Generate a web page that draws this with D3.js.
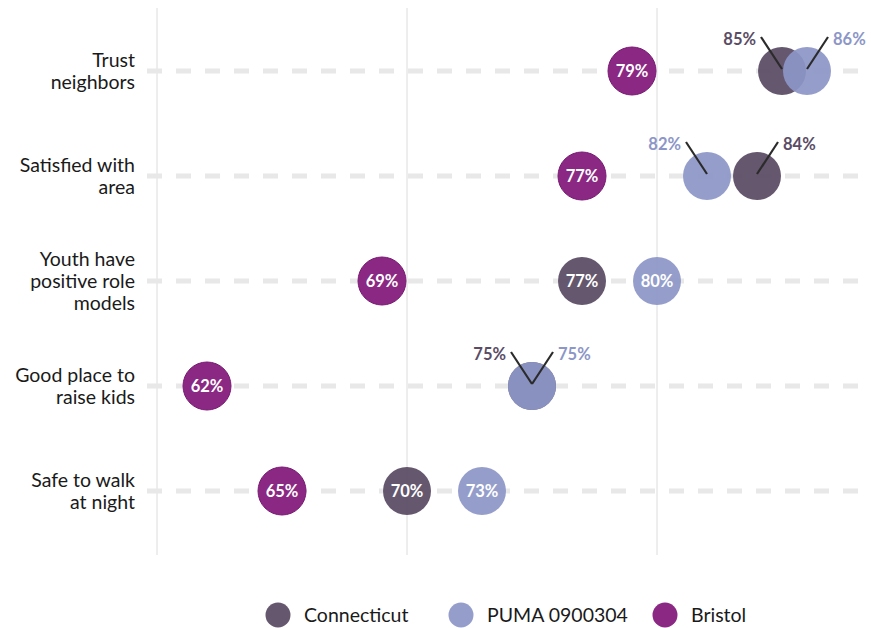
<!DOCTYPE html>
<html>
<head>
<meta charset="utf-8">
<script src="https://cdn.jsdelivr.net/npm/d3@7"></script>
<style>
  body { margin: 0; background: #fff; }
  svg { font-family: "Source Sans Pro", Lato, "Noto Sans", sans-serif; }
</style>
</head>
<body>
<script>
// Data
const categories = [
  ["Trust", "neighbors"],
  ["Satisfied with", "area"],
  ["Youth have", "positive role", "models"],
  ["Good place to", "raise kids"],
  ["Safe to walk", "at night"]
];
const seriesNames = ["Connecticut", "PUMA 0900304", "Bristol"];
const connecticut = [85, 84, 77, 75, 70];
const puma = [86, 82, 80, 75, 73];
const bristol = [79, 77, 69, 62, 65];
const gridValues = [60, 70, 80];

const colors = ["#5a4c65", "#8c96c7", "#86217f"];
const opac = [0.94, 0.92, 0.97];

// Main
const width = 871, height = 628;
const svg = d3.select("body").append("svg")
  .attr("width", width).attr("height", height);

const x = d3.scaleLinear().domain([60, 88]).range([157, 857]);
const y = d3.scalePoint().domain(d3.range(categories.length)).range([71, 491]);
const r = 24;

// vertical gridlines
svg.append("g").selectAll("line").data(gridValues).join("line")
  .attr("x1", d => x(d)).attr("x2", d => x(d))
  .attr("y1", 8).attr("y2", 555)
  .attr("stroke", "#dcdcdc").attr("stroke-width", 1);

// dashed row lines
svg.append("g").selectAll("line").data(categories).join("line")
  .attr("x1", 147).attr("x2", 867)
  .attr("y1", (d, i) => y(i)).attr("y2", (d, i) => y(i))
  .attr("stroke", "#e8e8e8").attr("stroke-width", 5)
  .attr("stroke-dasharray", "15,14");

// row labels
const lab = svg.append("g").selectAll("text").data(categories).join("text")
  .attr("text-anchor", "end")
  .attr("font-size", 19.5)
  .attr("fill", "#1a1a1a");
lab.each(function (lines, i) {
  const lh = 22;
  const y0 = y(i) - (lines.length - 1) * lh / 2;
  d3.select(this).selectAll("tspan").data(lines).join("tspan")
    .attr("x", 135)
    .attr("y", (d, k) => y0 + k * lh + 6.5)
    .text(d => d);
});

// points
const rows = categories.map((c, i) => ({
  i,
  vals: [connecticut[i], puma[i], bristol[i]]
}));

const points = [];
rows.forEach(row => row.vals.forEach((v, s) => points.push({ row: row.i, s, v })));

svg.append("g").selectAll("circle").data(points).join("circle")
  .attr("cx", d => x(d.v)).attr("cy", d => y(d.row)).attr("r", r)
  .attr("fill", d => colors[d.s])
  .attr("fill-opacity", d => opac[d.s])
  .attr("stroke", d => d.s === 2 ? "#7a1a73" : "none")
  .attr("stroke-width", 1);

// labels: inside when apart, outside with leaders when CT/PUMA overlap
const close = i => Math.abs(connecticut[i] - puma[i]) <= 2;
const fmt = v => v + "%";

const inside = points.filter(d => d.s === 2 || !close(d.row));
svg.append("g").selectAll("text").data(inside).join("text")
  .attr("x", d => x(d.v)).attr("y", d => y(d.row) + 6)
  .attr("text-anchor", "middle")
  .attr("font-size", 16.5).attr("font-weight", "bold")
  .attr("fill", "#fff")
  .text(d => fmt(d.v));

const outside = [];
rows.filter(row => close(row.i)).forEach(row => {
  const ct = { row: row.i, s: 0, v: connecticut[row.i] };
  const pu = { row: row.i, s: 1, v: puma[row.i] };
  const left = ct.v <= pu.v ? ct : pu;
  const right = left === ct ? pu : ct;
  outside.push({ ...left, side: -1 }, { ...right, side: 1 });
});

const lead = svg.append("g");
lead.selectAll("line").data(outside).join("line")
  .attr("x1", d => x(d.v)).attr("y1", d => y(d.row) - 2)
  .attr("x2", d => x(d.v) + d.side * 21).attr("y2", d => y(d.row) - 34)
  .attr("stroke", "#2b2b2b").attr("stroke-width", 2.2);
lead.selectAll("text").data(outside).join("text")
  .attr("x", d => x(d.v) + d.side * 26)
  .attr("y", d => y(d.row) - 26)
  .attr("text-anchor", d => d.side < 0 ? "end" : "start")
  .attr("font-size", 16.5).attr("font-weight", "bold")
  .attr("fill", d => colors[d.s])
  .text(d => fmt(d.v));

// legend
const legX = [278, 461, 665];
const leg = svg.append("g").selectAll("g").data(seriesNames).join("g")
  .attr("transform", (d, i) => `translate(${legX[i]},615)`);
leg.append("circle").attr("r", 12.5)
  .attr("fill", (d, i) => colors[i])
  .attr("fill-opacity", (d, i) => opac[i]);
leg.append("text").attr("x", 26).attr("y", 7)
  .attr("font-size", 19.5).attr("fill", "#1a1a1a")
  .text(d => d);
</script>
</body>
</html>
